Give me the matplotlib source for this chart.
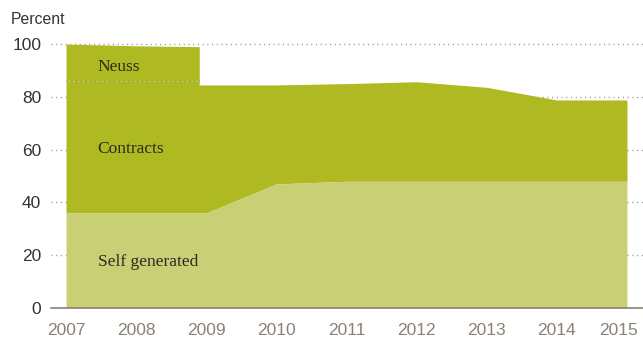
import matplotlib
matplotlib.use("Agg")
import matplotlib.pyplot as plt
import matplotlib.transforms as mtransforms
import numpy as np

# Data (Neuss ends with a vertical step just before 2009)
years = [2007, 2008, 2008.9, 2008.9, 2009, 2010, 2011, 2012, 2013, 2014, 2015]
self_generated = [36, 36, 36, 36, 36, 47, 48, 48, 48, 48, 48]
contracts = [50, 50, 50, 48.5, 48.5, 37.5, 37, 37.7, 35.6, 30.8, 30.8]
neuss = [14, 13.3, 13, 0, 0, 0, 0, 0, 0, 0, 0]
tick_years = [2007, 2008, 2009, 2010, 2011, 2012, 2013, 2014, 2015]
y_ticks = [0, 20, 40, 60, 80, 100]

x = np.array(years, dtype=float)
s = np.array(self_generated, dtype=float)
c = s + np.array(contracts, dtype=float)
n = c + np.array(neuss, dtype=float)

W, H = 643, 338
fig = plt.figure(figsize=(W / 100, H / 100), dpi=100)
ax = fig.add_axes([51 / W, 1 - 308 / H, 1 - 51 / W, (308 - 44) / H])

plt.rcParams["font.family"] = ["Liberation Sans", "DejaVu Sans"]
dark = "#afba22"
light = "#c9cf75"

ax.set_xlim(2007 - 15 / 70, 2015 + 16 / 70)
ax.set_ylim(0, 100)

for yt in y_ticks[1:]:
    ax.axhline(yt, color="#9a968c", lw=1, dashes=(0.8, 2.6), zorder=1, clip_on=False)

neuss_mask = np.array(neuss) > 0
ax.fill_between(x, c, n, color=dark, lw=0, zorder=2)
ax.fill_between(x, s, c, color=dark, lw=0, zorder=2)
ax.fill_between(x, 0, s, color=light, lw=0, zorder=2)
# dotted boundary between Neuss and Contracts
ax.plot(x[neuss_mask], c[neuss_mask], color="#8a8a5a", lw=1, dashes=(0.8, 2.6), zorder=3)

for sp in ["top", "right", "left"]:
    ax.spines[sp].set_visible(False)
ax.spines["bottom"].set_color("#8c8273")
ax.spines["bottom"].set_linewidth(1.2)
ax.spines["bottom"].set_zorder(4)

ax.set_xticks(tick_years)
ax.set_xticklabels([str(t) for t in tick_years], fontsize=12.5, color="#8b8176",
                   fontfamily=["Liberation Sans"])
ax.set_yticks(y_ticks)
ax.set_yticklabels([str(t) for t in y_ticks], fontsize=12.5, color="#333333",
                   fontfamily=["Liberation Sans"])
ax.tick_params(axis="both", length=0)
ax.tick_params(axis="x", pad=11)
ax.tick_params(axis="y", pad=7)
last = ax.get_xticklabels()[-1]
last.set_transform(last.get_transform() + mtransforms.ScaledTranslation(-8 / 100, 0, fig.dpi_scale_trans))

fig.text(11 / W, 1 - 20 / H, "Percent", fontsize=11.3, color="#333333", va="center", ha="left",
         fontfamily=["Liberation Sans"])

serif = ["Liberation Serif", "DejaVu Serif"]
ax.text(2007.45, 89.8, "Neuss", fontfamily=serif, fontsize=12.5, color="#2b2b20", va="baseline", zorder=5)
ax.text(2007.45, 58.7, "Contracts", fontfamily=serif, fontsize=12.5, color="#2b2b20", va="baseline", zorder=5)
ax.text(2007.45, 15.9, "Self generated", fontfamily=serif, fontsize=12.5, color="#2b2b20", va="baseline", zorder=5)

fig.savefig("out.png", dpi=100)
